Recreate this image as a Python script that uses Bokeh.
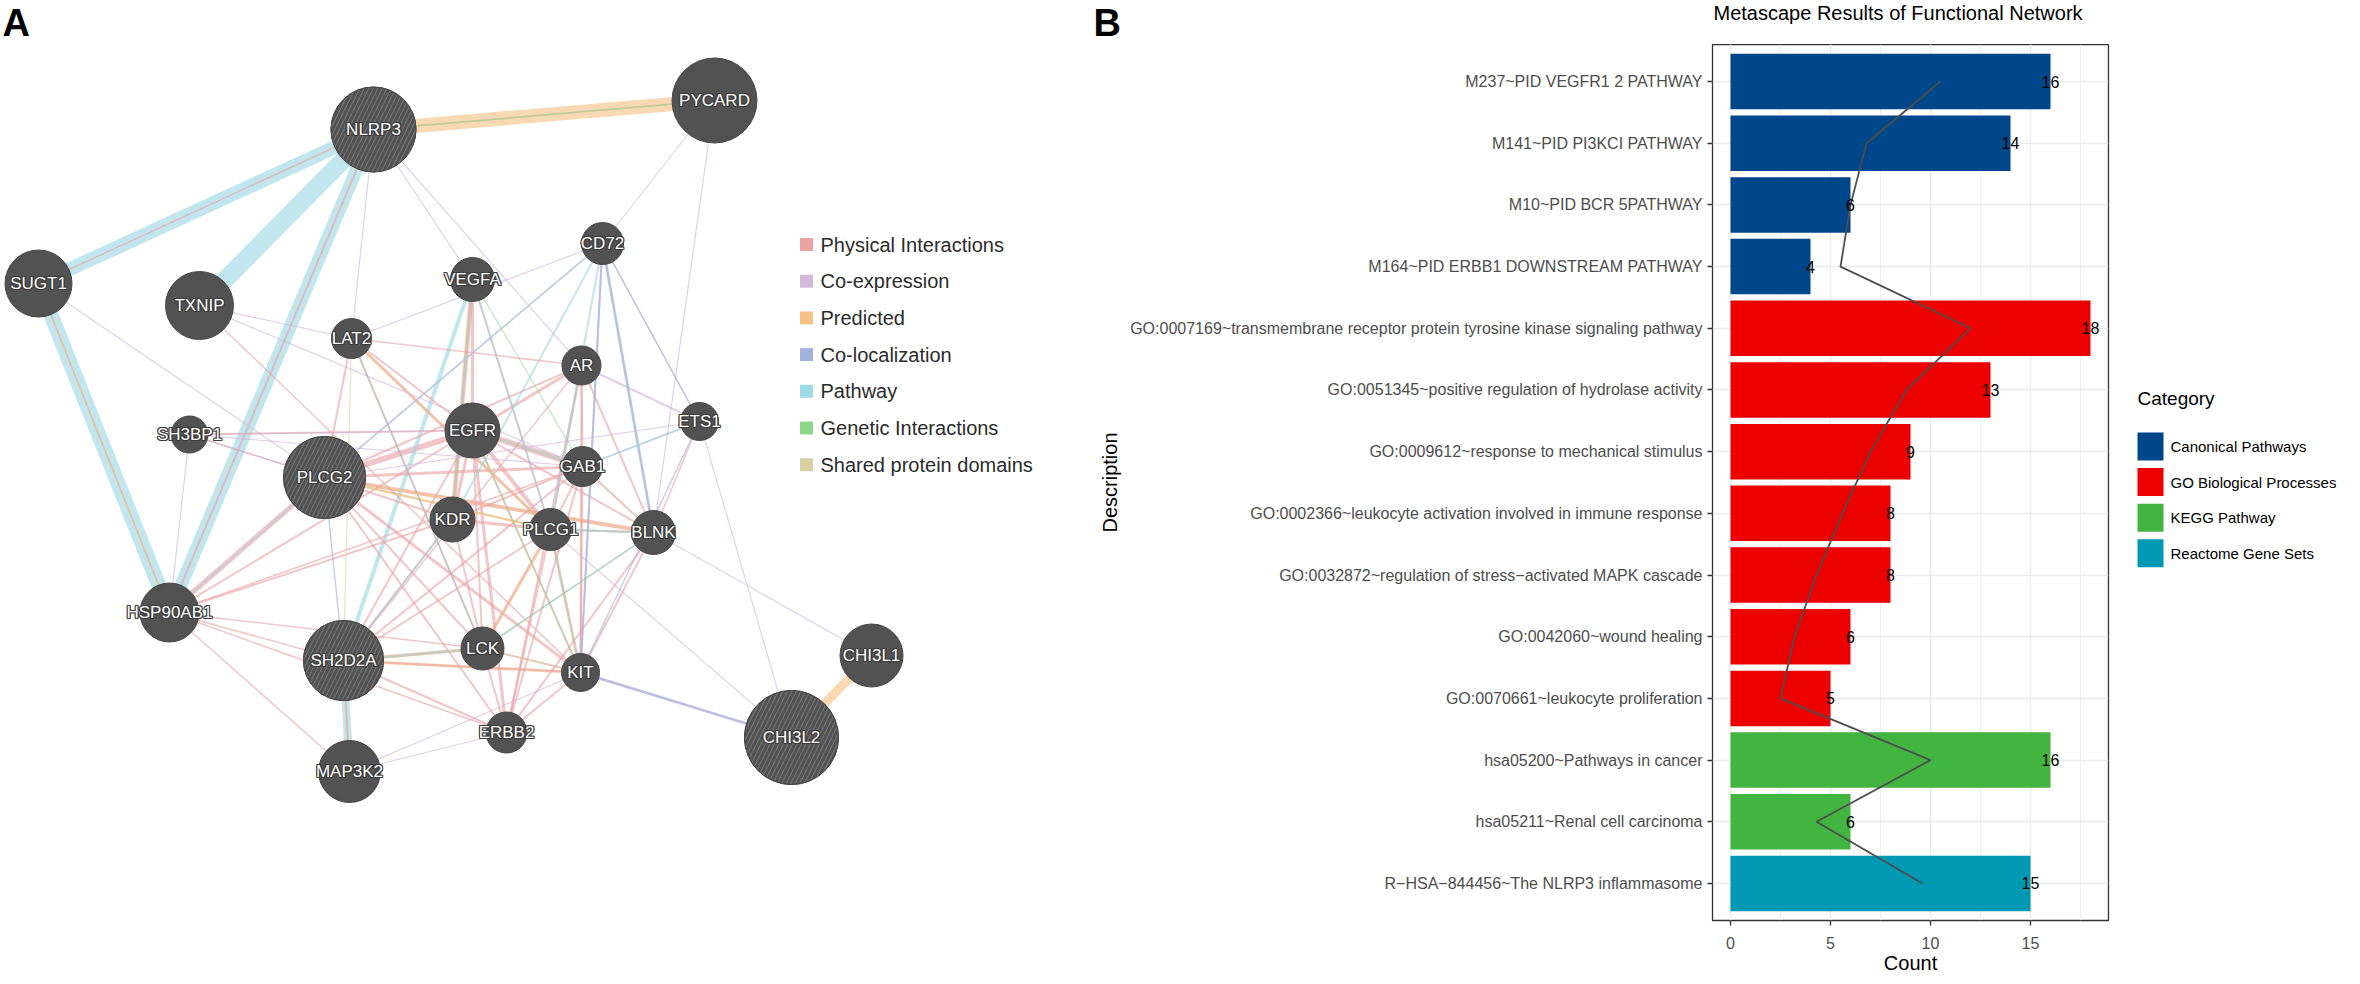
from bokeh.plotting import figure
from bokeh.models import Range1d, FixedTicker, SingleIntervalTicker, ColumnDataSource
from bokeh.layouts import row, column
from bokeh.embed import file_html
from bokeh.resources import INLINE
from bokeh.core.properties import value

FONT = "Liberation Sans"

# ---------------- Panel A data (GeneMANIA network) ----------------
genes = ["NLRP3", "PYCARD", "SUGT1", "TXNIP", "CD72", "VEGFA", "LAT2", "AR", "SH3BP1",
         "PLCG2", "EGFR", "ETS1", "GAB1", "KDR", "PLCG1", "BLNK", "HSP90AB1", "SH2D2A",
         "LCK", "KIT", "ERBB2", "MAP3K2", "CHI3L1", "CHI3L2"]
layout_x = [381, 722, 46, 207, 610, 480, 359, 589, 197, 332, 480, 707, 590, 460, 558, 661,
            177, 351, 490, 588, 514, 357, 879, 799]
layout_y = [137, 108, 291, 313, 251, 287, 346, 373, 442, 485, 438, 429, 474, 527, 537, 540,
            620, 668, 656, 680, 740, 779, 663, 745]
node_score = [85, 85, 67, 68, 42, 44, 40, 39, 37, 82, 55, 38, 40, 45, 42, 44, 59, 80, 43, 38,
              41, 62, 63, 94]
query_genes = ["NLRP3", "PLCG2", "SH2D2A", "CHI3L2"]

edge_types = ["Physical Interactions", "Co-expression", "Predicted", "Co-localization",
              "Pathway", "Genetic Interactions", "Shared protein domains"]

physical = [("NLRP3", "SUGT1", 1.5), ("NLRP3", "HSP90AB1", 2), ("NLRP3", "PYCARD", 1.5),
            ("EGFR", "PLCG2", 6), ("EGFR", "PLCG1", 4), ("EGFR", "GAB1", 6), ("EGFR", "KDR", 3),
            ("EGFR", "ERBB2", 3), ("EGFR", "AR", 3), ("EGFR", "LCK", 2), ("EGFR", "KIT", 2),
            ("EGFR", "SH2D2A", 2), ("EGFR", "HSP90AB1", 2), ("EGFR", "BLNK", 2), ("EGFR", "SH3BP1", 2),
            ("EGFR", "VEGFA", 3), ("EGFR", "LAT2", 2), ("PLCG2", "BLNK", 4), ("PLCG2", "LAT2", 2),
            ("PLCG2", "KIT", 3), ("PLCG2", "LCK", 2), ("PLCG2", "HSP90AB1", 5), ("PLCG2", "GAB1", 3),
            ("PLCG2", "ERBB2", 2), ("PLCG2", "KDR", 2), ("PLCG2", "SH3BP1", 1.5), ("PLCG2", "AR", 2),
            ("PLCG1", "KDR", 3), ("PLCG1", "KIT", 3), ("PLCG1", "LCK", 3), ("PLCG1", "LAT2", 3),
            ("PLCG1", "GAB1", 2), ("PLCG1", "ERBB2", 2), ("PLCG1", "SH2D2A", 2), ("PLCG1", "AR", 2),
            ("PLCG1", "VEGFA", 2), ("PLCG1", "BLNK", 2), ("KDR", "VEGFA", 3), ("KDR", "SH2D2A", 2),
            ("KDR", "GAB1", 2), ("KDR", "LCK", 2), ("LCK", "SH2D2A", 3), ("LCK", "KIT", 2),
            ("LCK", "ERBB2", 2), ("LCK", "HSP90AB1", 1.5), ("KIT", "SH2D2A", 2), ("KIT", "ERBB2", 2),
            ("KIT", "GAB1", 2), ("KIT", "BLNK", 2), ("KIT", "AR", 2), ("ERBB2", "HSP90AB1", 1.5),
            ("ERBB2", "SH2D2A", 2), ("ERBB2", "GAB1", 2), ("ERBB2", "AR", 2), ("ERBB2", "BLNK", 2),
            ("HSP90AB1", "SH2D2A", 1.5), ("HSP90AB1", "KDR", 2), ("HSP90AB1", "MAP3K2", 1.5),
            ("HSP90AB1", "GAB1", 1.5), ("AR", "GAB1", 2), ("AR", "BLNK", 2), ("AR", "LAT2", 1.5),
            ("ETS1", "BLNK", 1.5), ("SH2D2A", "MAP3K2", 1.5), ("TXNIP", "KIT", 1.5),
            ("SUGT1", "HSP90AB1", 1.5), ("GAB1", "BLNK", 2), ("SH2D2A", "GAB1", 2), ("SH2D2A", "AR", 1.5)]
coexpression = [("NLRP3", "LAT2", 1.2), ("NLRP3", "VEGFA", 1.2), ("NLRP3", "AR", 1.2),
                ("PYCARD", "CD72", 1.2), ("PYCARD", "BLNK", 1.2), ("TXNIP", "LAT2", 1.2),
                ("TXNIP", "GAB1", 1.2), ("CD72", "KIT", 2), ("KIT", "CHI3L2", 3), ("ETS1", "AR", 2),
                ("ETS1", "GAB1", 1.5), ("ETS1", "CD72", 1.5), ("ETS1", "PLCG2", 1.2), ("CD72", "PLCG2", 1.2),
                ("CD72", "LAT2", 1.2), ("CD72", "BLNK", 1.5), ("SH3BP1", "PLCG2", 1.5), ("SH3BP1", "GAB1", 1.2),
                ("MAP3K2", "ERBB2", 1.2), ("MAP3K2", "KIT", 1.2), ("CHI3L2", "PLCG1", 1.2),
                ("CHI3L1", "BLNK", 1.2), ("CHI3L2", "ETS1", 1.2), ("SH3BP1", "EGFR", 1.2),
                ("HSP90AB1", "SH3BP1", 1.2), ("SUGT1", "PLCG2", 1.2)]
predicted = [("NLRP3", "PYCARD", 14), ("CHI3L1", "CHI3L2", 9), ("VEGFA", "KDR", 5), ("LAT2", "LCK", 2),
             ("LAT2", "PLCG1", 2), ("SH2D2A", "KIT", 3), ("SH2D2A", "LCK", 3), ("PLCG2", "BLNK", 2.5),
             ("EGFR", "GAB1", 2), ("SUGT1", "HSP90AB1", 1.2), ("SH2D2A", "MAP3K2", 2),
             ("PLCG1", "BLNK", 2), ("LCK", "PLCG1", 2), ("PLCG2", "PLCG1", 2)]
colocalization = [("CD72", "BLNK", 2), ("CD72", "KIT", 2), ("LAT2", "LCK", 1.5), ("PLCG2", "SH2D2A", 1.5),
                  ("ETS1", "KIT", 1.5), ("BLNK", "LCK", 1.5), ("KIT", "CHI3L2", 2), ("CD72", "ETS1", 1.2)]
pathway = [("NLRP3", "SUGT1", 14), ("NLRP3", "TXNIP", 18), ("NLRP3", "HSP90AB1", 13),
           ("SUGT1", "HSP90AB1", 15), ("SH2D2A", "MAP3K2", 8), ("SH2D2A", "VEGFA", 4),
           ("CD72", "PLCG2", 2), ("CD72", "KDR", 2), ("CD72", "BLNK", 3), ("CD72", "PLCG1", 2),
           ("VEGFA", "KDR", 2), ("VEGFA", "PLCG1", 1.5), ("EGFR", "GAB1", 2), ("KDR", "SH2D2A", 2),
           ("LCK", "SH2D2A", 2), ("HSP90AB1", "PLCG2", 1.5), ("BLNK", "PLCG1", 2), ("ETS1", "GAB1", 1.5)]
genetic = [("NLRP3", "PYCARD", 1.5), ("VEGFA", "GAB1", 1.2), ("PLCG1", "KIT", 1.2), ("EGFR", "KIT", 1.2),
           ("LCK", "BLNK", 1.2)]
shared_domains = [("PLCG1", "PLCG2", 2.5), ("LCK", "KIT", 1.5), ("SH2D2A", "LAT2", 1.2), ("GAB1", "BLNK", 1.2)]
edge_lists = [physical, coexpression, predicted, colocalization, pathway, genetic, shared_domains]

# ---------------- Panel B data (Metascape enrichment) ----------------
descriptions = [
    "M237~PID VEGFR1 2 PATHWAY",
    "M141~PID PI3KCI PATHWAY",
    "M10~PID BCR 5PATHWAY",
    "M164~PID ERBB1 DOWNSTREAM PATHWAY",
    "GO:0007169~transmembrane receptor protein tyrosine kinase signaling pathway",
    "GO:0051345~positive regulation of hydrolase activity",
    "GO:0009612~response to mechanical stimulus",
    "GO:0002366~leukocyte activation involved in immune response",
    "GO:0032872~regulation of stress\u2212activated MAPK cascade",
    "GO:0042060~wound healing",
    "GO:0070661~leukocyte proliferation",
    "hsa05200~Pathways in cancer",
    "hsa05211~Renal cell carcinoma",
    "R\u2212HSA\u2212844456~The NLRP3 inflammasome",
]
counts = [16, 14, 6, 4, 18, 13, 9, 8, 8, 6, 5, 16, 6, 15]
line_values = [10.5, 6.8, 6.0, 5.5, 12.0, 8.8, 7.0, 5.6, 4.3, 3.2, 2.5, 10.0, 4.3, 9.6]
bar_category = ["Canonical Pathways"] * 4 + ["GO Biological Processes"] * 7 + ["KEGG Pathway"] * 2 + \
               ["Reactome Gene Sets"]
categories = ["Canonical Pathways", "GO Biological Processes", "KEGG Pathway", "Reactome Gene Sets"]
chart_title = "Metascape Results of Functional Network"

# ---------------- styles ----------------
edge_colors = ["#E9A0A3", "#CDB3D8", "#F5BF80", "#9FB2DD", "#9AD6E1", "#8FDC8C", "#D8D19C"]
legend_a_colors = ["#EBA3A3", "#D3B9DA", "#F6C286", "#A1B3DD", "#9DDAE2", "#8CDA89", "#D8D2A2"]
category_colors = ["#00468B", "#ED0000", "#42B540", "#0099B4"]

PAGE_TOP, PAGE_BOTTOM = 8, 984
B_TOP = 52            # page y of the bar panel frame top
FRAME_H = 876
FULL_H = PAGE_BOTTOM - PAGE_TOP


def blank(width, height, x0, x1, y0, y1):
    f = figure(width=width, height=height, x_range=Range1d(x0, x1), y_range=Range1d(y1, y0),
               x_axis_type=None, y_axis_type=None, min_border=0, toolbar_location=None,
               output_backend="svg", frame_align=False, title=None)
    f.grid.visible = False
    f.outline_line_color = None
    return f


# ================= Panel A =================
pa = blank(1080, FULL_H, 8, 1088, PAGE_TOP, PAGE_BOTTOM)
pa.text(x=[10], y=[30], text=["A"], text_align="left", text_baseline="middle",
        text_color="black", text_font=value(FONT), text_font_size="38px", text_font_style="bold")

pos = {g: (x, y) for g, x, y in zip(genes, layout_x, layout_y)}
edges = []
for col, elist in zip(edge_colors, edge_lists):
    for a, b, w in elist:
        edges.append((w, col, a, b))
edges.sort(key=lambda e: -e[0])
esrc = ColumnDataSource(dict(
    xs=[[pos[a][0], pos[b][0]] for w, c, a, b in edges],
    ys=[[pos[a][1], pos[b][1]] for w, c, a, b in edges],
    color=[c for w, c, a, b in edges],
    width=[w for w, c, a, b in edges],
))
pa.multi_line(xs="xs", ys="ys", line_color="color", line_width="width", line_alpha=0.6, source=esrc)

nsrc = ColumnDataSource(dict(x=layout_x, y=layout_y, size=node_score, name=genes))
pa.scatter(x="x", y="y", size="size", marker="circle", fill_color="#525252",
           line_color="#474747", line_width=1, source=nsrc)
qi = [genes.index(g) for g in query_genes]
qsrc = ColumnDataSource(dict(x=[layout_x[i] for i in qi], y=[layout_y[i] for i in qi],
                             size=[node_score[i] for i in qi]))
pa.scatter(x="x", y="y", size="size", marker="circle", fill_color="#525252", line_color="#474747",
           hatch_pattern="/", hatch_color="#767676", hatch_scale=9, hatch_weight=1.1, source=qsrc)
for dx, dy in [(-1, 0), (1, 0), (0, -1), (0, 1), (-1, -1), (1, -1), (-1, 1), (1, 1)]:
    pa.text(x="x", y="y", text="name", text_align="center", text_baseline="middle",
            x_offset=dx, y_offset=dy, text_color="#3c3c3c", text_font=value(FONT),
            text_font_size="17px", source=nsrc)
pa.text(x="x", y="y", text="name", text_align="center", text_baseline="middle",
        text_color="white", text_font=value(FONT), text_font_size="17px", source=nsrc)

leg_y = [252 + i * 36.7 for i in range(len(edge_types))]
pa.scatter(x=[814] * len(edge_types), y=leg_y, marker="square", size=13,
           fill_color=legend_a_colors, line_color=None)
pa.text(x=[828] * len(edge_types), y=leg_y, text=edge_types, text_align="left",
        text_baseline="middle", text_color="#2b2b2b", text_font=value(FONT), text_font_size="20px")

# ================= strip above panel B (letter, title) =================
PB_W = 1030
PB_LEFT = 1088
FRAME_LEFT = 1720
psb = blank(PB_W, B_TOP - PAGE_TOP, PB_LEFT, PB_LEFT + PB_W, PAGE_TOP, B_TOP)
psb.text(x=[1101], y=[30], text=["B"], text_align="left", text_baseline="middle",
         text_color="black", text_font=value(FONT), text_font_size="38px", text_font_style="bold")
psb.text(x=[FRAME_LEFT + 1], y=[20], text=[chart_title], text_align="left", text_baseline="middle",
         text_color="black", text_font=value(FONT), text_font_size="20px")

# ================= Panel B =================
n = len(descriptions)
idx = list(range(1, n + 1))
pb_h = PAGE_BOTTOM - B_TOP
pb = figure(width=PB_W, height=pb_h, x_range=Range1d(-0.9, 18.9), y_range=Range1d(n + 0.6, 0.4),
            min_border_left=FRAME_LEFT - PB_LEFT, min_border_right=2, min_border_top=0,
            min_border_bottom=pb_h - FRAME_H, toolbar_location=None, output_backend="svg",
            frame_align=False, title=None)
pb.outline_line_color = "#333333"
pb.outline_line_width = 1.3
pb.background_fill_color = "white"

bsrc = ColumnDataSource(dict(
    y=idx, right=counts, label=[str(c) for c in counts],
    color=[category_colors[categories.index(c)] for c in bar_category],
))
pb.hbar(y="y", left=0, right="right", height=0.9, fill_color="color", line_color=None, source=bsrc)
pb.line(x=line_values, y=idx, line_color="#4D4D4D", line_width=1.8)
pb.text(x="right", y="y", text="label", text_align="center", text_baseline="middle",
        text_color="black", text_font=value(FONT), text_font_size="16px", source=bsrc)

pb.xaxis.ticker = SingleIntervalTicker(interval=5, num_minor_ticks=2)
pb.yaxis.ticker = FixedTicker(ticks=idx)
pb.yaxis.major_label_overrides = {i: d for i, d in zip(idx, descriptions)}
for ax in (pb.xaxis[0], pb.yaxis[0]):
    ax.axis_line_color = None
    ax.major_tick_line_color = "#333333"
    ax.major_tick_line_width = 1.3
    ax.major_tick_out = 5
    ax.major_tick_in = 0
    ax.minor_tick_line_color = None
    ax.major_label_text_font = FONT
    ax.major_label_text_font_size = "16px"
    ax.major_label_text_color = "#4D4D4D"
    ax.axis_label_text_font = FONT
    ax.axis_label_text_font_size = "20px"
    ax.axis_label_text_font_style = "normal"
    ax.axis_label_text_color = "black"
pb.xaxis.axis_label = "Count"
pb.xaxis.major_label_standoff = 11
pb.xaxis.axis_label_standoff = 0
pb.yaxis.axis_label = "Description"
pb.yaxis.major_label_standoff = 5
pb.yaxis.axis_label_standoff = 6

pb.xgrid.grid_line_color = "#EBEBEB"
pb.xgrid.grid_line_width = 1.4
pb.xgrid.minor_grid_line_color = "#EBEBEB"
pb.xgrid.minor_grid_line_width = 0.8
pb.ygrid.grid_line_color = "#EBEBEB"
pb.ygrid.grid_line_width = 1.4

# ================= Legend of panel B =================
PL_LEFT = PB_LEFT + PB_W
pl = blank(2352 - PL_LEFT, FULL_H, PL_LEFT, 2352, PAGE_TOP, PAGE_BOTTOM)
key_y = [454 + i * 35.6 for i in range(len(categories))]
pl.rect(x=[2158] * len(categories), y=key_y, width=26, height=28, width_units="screen",
        height_units="screen", fill_color=category_colors, line_color=None)
pl.text(x=[2178] * len(categories), y=key_y, text=categories, text_align="left", text_baseline="middle",
        text_color="black", text_font=value(FONT), text_font_size="15px")
pl.text(x=[2145], y=[406], text=["Category"], text_align="left", text_baseline="middle",
        text_color="black", text_font=value(FONT), text_font_size="19px")

layout = row(pa, column(psb, pb), pl)
open("out.html", "w").write(file_html(layout, INLINE))
